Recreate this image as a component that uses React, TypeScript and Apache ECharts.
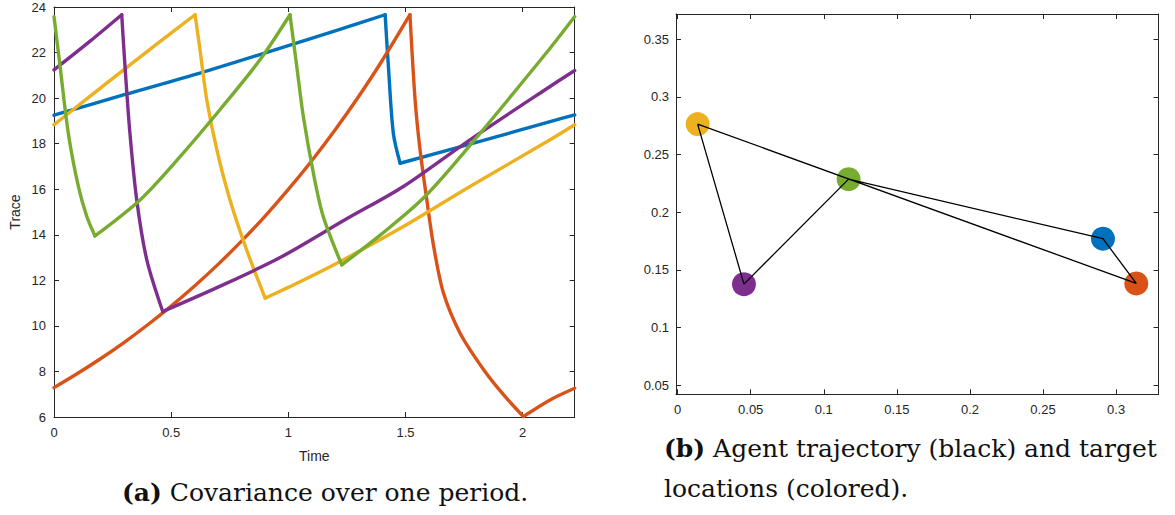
import React, { useEffect, useRef } from "react";
import * as echarts from "echarts";

// ---- Left panel: trace of covariance over one period ----
const blueTrace = [
  [0, 19.25], [0.3, 20.15], [0.623, 21.1], [0.922, 22.05], [1.2, 22.95], [1.413, 23.66],
  [1.427, 21.39], [1.448, 18.46], [1.477, 17.14], [1.79, 18.02], [2.117, 18.97], [2.222, 19.26],
];
const redTrace = [
  [0, 7.29], [0.1, 7.91], [0.2, 8.57], [0.3, 9.28], [0.4, 10.05], [0.5, 10.87], [0.6, 11.75],
  [0.7, 12.7], [0.8, 13.72], [0.9, 14.81], [1.0, 15.99], [1.1, 17.25], [1.2, 18.61], [1.3, 20.07],
  [1.4, 21.64], [1.519, 23.66], [1.541, 19.92], [1.562, 17.73], [1.59, 15.6], [1.62, 13.5],
  [1.662, 11.44], [1.733, 9.68], [1.832, 8.1], [1.918, 6.98], [2.003, 6.02], [2.117, 6.75],
  [2.222, 7.26],
];
const yellowTrace = [
  [0, 18.83], [0.225, 20.66], [0.438, 22.37], [0.602, 23.66], [0.623, 22.12], [0.652, 19.92],
  [0.695, 17.73], [0.751, 15.53], [0.822, 13.34], [0.901, 11.22], [1.05, 11.94], [1.207, 12.75],
  [1.491, 14.36], [1.775, 16.12], [2.117, 18.17], [2.222, 18.83],
];
const purpleTrace = [
  [0, 21.24], [0.154, 22.5], [0.289, 23.66], [0.303, 21.39], [0.324, 18.46], [0.353, 15.53],
  [0.396, 12.9], [0.464, 10.63], [0.7, 11.7], [0.965, 13.0], [1.249, 14.7], [1.491, 16.12],
  [1.775, 18.17], [2.117, 20.51], [2.222, 21.21],
];
const greenTrace = [
  [0, 23.58], [0.026, 21.39], [0.061, 18.46], [0.104, 16.12], [0.14, 14.8], [0.175, 13.95],
  [0.367, 15.53], [0.538, 17.43], [0.708, 19.49], [0.879, 21.68], [1.007, 23.66], [1.036, 21.39],
  [1.064, 19.19], [1.107, 16.7], [1.149, 14.8], [1.228, 12.68], [1.4, 14.05], [1.583, 15.68],
  [1.783, 18.02], [2.117, 22.19], [2.222, 23.58],
];
const leftXTicks = [0, 0.5, 1, 1.5, 2];
const leftYTicks = [6, 8, 10, 12, 14, 16, 18, 20, 22, 24];

// ---- Right panel: targets and agent trajectory ----
const targetNames = ["blue", "red", "yellow", "purple", "green"];
const targetX = [0.291, 0.3138, 0.0137, 0.0454, 0.117];
const targetY = [0.177, 0.1382, 0.2765, 0.1376, 0.2287];
const pathX = [0.0137, 0.0454, 0.117, 0.291, 0.3138, 0.0137];
const pathY = [0.2765, 0.1376, 0.2287, 0.177, 0.1382, 0.2765];
const rightXTicks = [0, 0.05, 0.1, 0.15, 0.2, 0.25, 0.3];
const rightYTicks = [0.05, 0.1, 0.15, 0.2, 0.25, 0.3, 0.35];

const COLORS: Record<string, string> = {
  blue: "#0072BD",
  red: "#D95319",
  yellow: "#EDB120",
  purple: "#7E2F8E",
  green: "#77AC30",
};

const AXIS_COLOR = "#262626";
const LABEL_FONT = "'Liberation Sans', Arial, Helvetica, sans-serif";
const CAPTION_FONT = "'DejaVu Serif', serif";

// split a trace into monotone pieces (rise / drop) so each piece can be smoothed
function splitMonotone(points: number[][]) {
  const segs: number[][][] = [];
  let cur: number[][] = [points[0]];
  let dir = 0;
  for (let i = 1; i < points.length; i++) {
    const d = Math.sign(points[i][1] - points[i - 1][1]);
    if (dir !== 0 && d !== 0 && d !== dir) {
      segs.push(cur);
      cur = [points[i - 1]];
    }
    if (d !== 0) dir = d;
    cur.push(points[i]);
  }
  segs.push(cur);
  return segs;
}

function makeAxis(
  gridIndex: number,
  min: number,
  max: number,
  ticks: number[],
  position: string,
  showLabels: boolean,
  labelMargin: number,
  extra: any = {}
) {
  return {
    type: "value",
    gridIndex,
    position,
    min,
    max,
    axisLine: { show: true, onZero: false, lineStyle: { color: AXIS_COLOR, width: 1 } },
    axisTick: {
      show: true,
      inside: true,
      length: 5,
      customValues: ticks,
      lineStyle: { color: AXIS_COLOR, width: 1 },
    },
    axisLabel: {
      show: showLabels,
      customValues: ticks,
      margin: labelMargin,
      color: AXIS_COLOR,
      fontSize: 13,
      fontFamily: LABEL_FONT,
      formatter: (v: number) => String(v),
    },
    splitLine: { show: false },
    ...extra,
  };
}

export default function App() {
  const ref = useRef<HTMLDivElement>(null);

  useEffect(() => {
    if (!ref.current) return;
    const chart = echarts.init(ref.current, undefined, { renderer: "svg" });

    const traces = [
      { name: "blue", data: blueTrace },
      { name: "red", data: redTrace },
      { name: "yellow", data: yellowTrace },
      { name: "purple", data: purpleTrace },
      { name: "green", data: greenTrace },
    ];
    const lineSeries: any[] = [];
    traces.forEach((s) => {
      splitMonotone(s.data).forEach((seg) => {
        lineSeries.push({
          type: "line",
          name: s.name,
          xAxisIndex: 0,
          yAxisIndex: 0,
          data: seg,
          showSymbol: false,
          symbol: "none",
          smooth: 0.3,
          lineStyle: { color: COLORS[s.name], width: 3.4, cap: "round", join: "round" },
          z: 3,
        });
      });
    });

    const targets = targetNames.map((n, i) => ({
      value: [targetX[i], targetY[i]],
      itemStyle: { color: COLORS[n], opacity: 1 },
    }));
    const path = pathX.map((x, i) => [x, pathY[i]]);

    const option: any = {
      animation: false,
      backgroundColor: "#ffffff",
      grid: [
        { left: 54, top: 7, width: 520.7, height: 410, containLabel: false },
        { left: 676, top: 14, width: 482.5, height: 380.3, containLabel: false },
      ],
      xAxis: [
        makeAxis(0, 0, 2.222, leftXTicks, "bottom", true, 9, {
          name: "Time",
          nameLocation: "middle",
          nameGap: 32,
          nameTextStyle: { color: AXIS_COLOR, fontSize: 14, fontFamily: LABEL_FONT },
        }),
        makeAxis(0, 0, 2.222, leftXTicks, "top", false, 8),
        makeAxis(1, -0.0011, 0.329, rightXTicks, "bottom", true, 9),
        makeAxis(1, -0.0011, 0.329, rightXTicks, "top", false, 8),
      ],
      yAxis: [
        makeAxis(0, 6, 24, leftYTicks, "left", true, 8, {
          name: "Trace",
          nameLocation: "middle",
          nameGap: 32,
          nameRotate: 90,
          nameTextStyle: { color: AXIS_COLOR, fontSize: 14, fontFamily: LABEL_FONT },
        }),
        makeAxis(0, 6, 24, leftYTicks, "right", false, 8),
        makeAxis(1, 0.042, 0.372, rightYTicks, "left", true, 7),
        makeAxis(1, 0.042, 0.372, rightYTicks, "right", false, 8),
      ],
      series: [
        ...lineSeries,
        {
          type: "scatter",
          name: "targets",
          xAxisIndex: 2,
          yAxisIndex: 2,
          data: targets,
          symbol: "circle",
          symbolSize: 24,
          itemStyle: { opacity: 1 },
          z: 2,
        },
        {
          type: "line",
          name: "trajectory",
          xAxisIndex: 2,
          yAxisIndex: 2,
          data: path,
          showSymbol: false,
          symbol: "none",
          lineStyle: { color: "#000000", width: 1.3 },
          z: 4,
        },
      ],
      graphic: [
        {
          type: "text",
          left: 122,
          top: 480,
          style: {
            text: "{b|(a)} {n|Covariance over one period.}",
            rich: {
              b: { fontFamily: CAPTION_FONT, fontSize: 25, fontWeight: "bold", fill: "#111" },
              n: { fontFamily: CAPTION_FONT, fontSize: 25, fill: "#111" },
            },
            fontFamily: CAPTION_FONT,
            fontSize: 25,
            fill: "#111",
          },
        },
        {
          type: "text",
          left: 664,
          top: 436,
          style: {
            text: "{b|(b)} {n|Agent trajectory (black) and target}\n{n|locations (colored).}",
            rich: {
              b: { fontFamily: CAPTION_FONT, fontSize: 25, fontWeight: "bold", fill: "#111", lineHeight: 40 },
              n: { fontFamily: CAPTION_FONT, fontSize: 25, fill: "#111", lineHeight: 40 },
            },
            fontFamily: CAPTION_FONT,
            fontSize: 25,
            fill: "#111",
          },
        },
      ],
    };

    chart.setOption(option);
    return () => chart.dispose();
  }, []);

  return (
    <div
      ref={ref}
      style={{ position: "fixed", left: 0, top: 0, width: 1175, height: 515, background: "#fff" }}
    />
  );
}
